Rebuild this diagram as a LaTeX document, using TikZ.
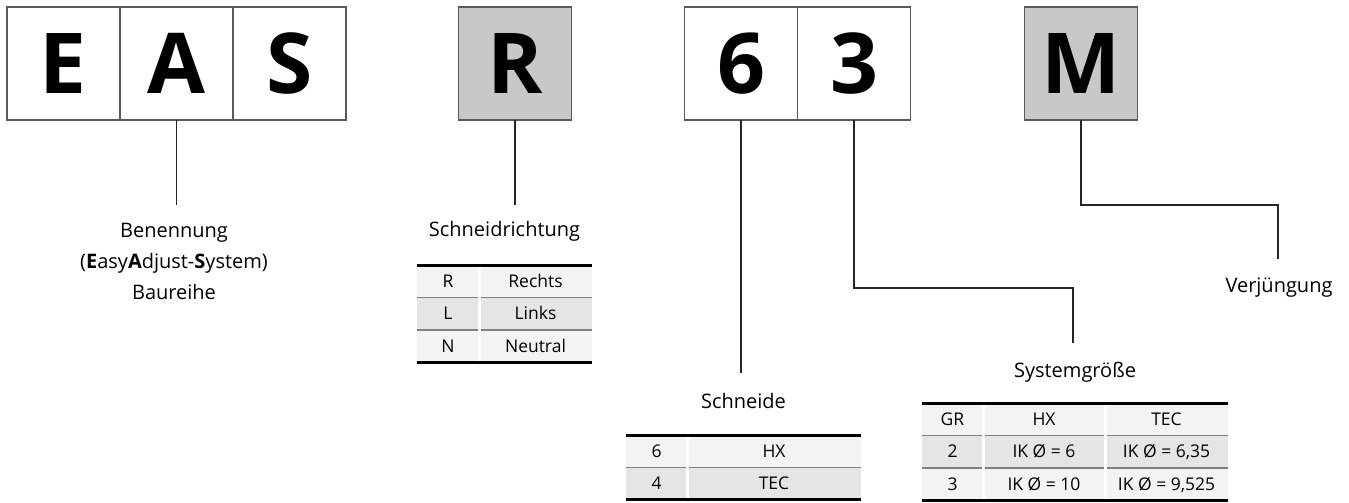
\documentclass[tikz,border=0pt]{standalone}
\usepackage{fontspec}
\setmainfont{Open Sans}
\usetikzlibrary{positioning}
\definecolor{boxgray}{HTML}{C8C8C8}
\definecolor{rowlight}{HTML}{F3F3F3}
\definecolor{rowdark}{HTML}{E5E5E5}
\definecolor{rulegray}{HTML}{808080}
\definecolor{framegray}{HTML}{5A5A5A}
\tikzstyle{codebox}=[draw=framegray, line width=1.2pt, minimum size=113pt, inner sep=0pt, outer sep=0pt, font=\fontsize{84}{84}\selectfont\bfseries]
\tikzstyle{conn}=[line width=1.5pt, black!85]
\tikzstyle{lbl}=[anchor=north, inner sep=0pt, align=center, text=black, font=\fontsize{20}{31}\selectfont]
\tikzstyle{cell}=[inner sep=0pt, outer sep=0pt, minimum height=32.4pt, text height=12.5pt, text depth=0pt, text=black, font=\fontsize{17.5}{20}\selectfont]
\tikzstyle{toprule}=[line width=3pt, black]
\tikzstyle{midrule}=[line width=1.5pt, rulegray]
\tikzstyle{colgap}=[line width=3pt, white]
\newcommand{\codebox}{\node[codebox]}
\newcommand{\tabcell}{\node[cell]}

\begin{document}
\begin{tikzpicture}[x=1pt, y=-1pt]
	\useasboundingbox (0,0) rectangle (1349,503);

	% code letters
	\codebox (E) at (63.5,63.5) {E};
	\codebox (A) [right=0pt of E] {A};
	\codebox (S) [right=0pt of A] {S};
	\codebox (R) at (515,63.5) [fill=boxgray] {R};
	\codebox (six) at (741,63.5) {6};
	\codebox (three) [right=0pt of six] {3};
	\codebox (M) at (1081,63.5) [fill=boxgray] {M};

	% labels
	\node[lbl] (benennung) at (174,223) {Benennung\\(\textbf{E}asy\textbf{A}djust-\textbf{S}ystem)\\Baureihe};
	\node[lbl] (richtung) at (504.5,221) {Schneidrichtung};
	\node[lbl] (schneide) at (743.5,393) {Schneide};
	\node[lbl] (groesse) at (1075,362) {Systemgröße};
	\node[lbl] (verj) at (1279,278) {Verjüngung};

	% connector ends
	\coordinate (benEnd) at (176.5,205);
	\coordinate (richtEnd) at (515,205);
	\coordinate (schnEnd) at (741,373);
	\coordinate (grEnd) at (1073,343);
	\coordinate (verjEnd) at (1278,259);

	\draw[conn] (A.south) -- (benEnd);
	\draw[conn] (R.south) -- (richtEnd);
	\draw[conn] (six.south) -- (schnEnd);
	\draw[conn] (three.south) -- ++(0,168) -| (grEnd);
	\draw[conn] (M.south) -- ++(0,85) -| (verjEnd);

	% table Schneidrichtung
	\tabcell (sr1a) at (448,281.2) [minimum width=62pt, fill=rowlight] {R};
	\tabcell (sr1b) [right=0pt of sr1a, minimum width=113pt, fill=rowlight] {Rechts};
	\tabcell (sr2a) [below=0pt of sr1a, minimum width=62pt, fill=rowdark] {L};
	\tabcell (sr2b) [right=0pt of sr2a, minimum width=113pt, fill=rowdark] {Links};
	\tabcell (sr3a) [below=0pt of sr2a, minimum width=62pt, fill=rowlight] {N};
	\tabcell (sr3b) [right=0pt of sr3a, minimum width=113pt, fill=rowlight] {Neutral};
	\draw[midrule] (sr1a.south west) -- (sr1b.south east);
	\draw[midrule] (sr2a.south west) -- (sr2b.south east);
	\draw[colgap] (sr1a.north east) -- (sr3a.south east);
	\draw[toprule] (sr1a.north west) -- (sr1b.north east);
	\draw[toprule] (sr3a.south west) -- (sr3b.south east);

	% table Schneide
	\tabcell (sc1a) at (656.5,451.2) [minimum width=61pt, fill=rowlight] {6};
	\tabcell (sc1b) [right=0pt of sc1a, minimum width=174pt, fill=rowlight] {HX};
	\tabcell (sc2a) [below=0pt of sc1a, minimum width=61pt, fill=rowdark] {4};
	\tabcell (sc2b) [right=0pt of sc2a, minimum width=174pt, fill=rowdark] {TEC};
	\draw[midrule] (sc1a.south west) -- (sc1b.south east);
	\draw[colgap] (sc1a.north east) -- (sc2a.south east);
	\draw[toprule] (sc1a.north west) -- (sc1b.north east);
	\draw[toprule] (sc2a.south west) -- (sc2b.south east);

	% table Systemgroesse
	\tabcell (sg1a) at (952.5,419.2) [minimum width=61pt, fill=rowlight] {GR};
	\tabcell (sg1b) [right=0pt of sg1a, minimum width=122pt, fill=rowlight] {HX};
	\tabcell (sg1c) [right=0pt of sg1b, minimum width=123pt, fill=rowlight] {TEC};
	\tabcell (sg2a) [below=0pt of sg1a, minimum width=61pt, fill=rowdark] {2};
	\tabcell (sg2b) [right=0pt of sg2a, minimum width=122pt, fill=rowdark] {IK Ø = 6};
	\tabcell (sg2c) [right=0pt of sg2b, minimum width=123pt, fill=rowdark] {IK Ø = 6,35};
	\tabcell (sg3a) [below=0pt of sg2a, minimum width=61pt, fill=rowlight] {3};
	\tabcell (sg3b) [right=0pt of sg3a, minimum width=122pt, fill=rowlight] {IK Ø = 10};
	\tabcell (sg3c) [right=0pt of sg3b, minimum width=123pt, fill=rowlight] {IK Ø = 9,525};
	\draw[midrule] (sg1a.south west) -- (sg1c.south east);
	\draw[midrule] (sg2a.south west) -- (sg2c.south east);
	\draw[colgap] (sg1a.north east) -- (sg3a.south east);
	\draw[colgap] (sg1b.north east) -- (sg3b.south east);
	\draw[toprule] (sg1a.north west) -- (sg1c.north east);
	\draw[toprule] (sg3a.south west) -- (sg3c.south east);
\end{tikzpicture}
\end{document}
